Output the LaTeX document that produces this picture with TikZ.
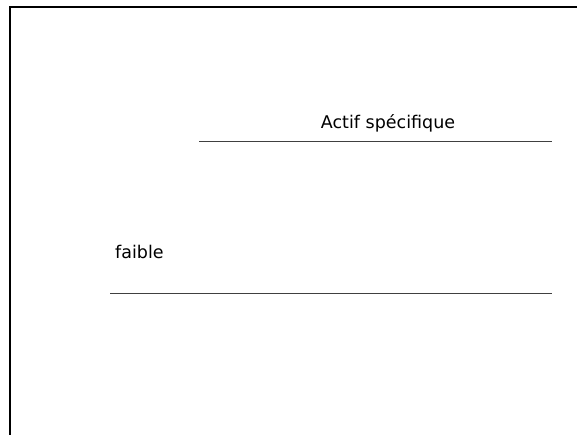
\documentclass[tikz,border=0pt]{standalone}
\usepackage{fontspec}
\setmainfont{DejaVu Sans}
\usetikzlibrary{positioning}

\begin{document}
\begin{tikzpicture}[
  x=1pt, y=-1pt,
  frame/.style={line width=2pt},
  rule/.style={line width=0.8pt, black!75},
  lbl/.style={inner sep=0pt, font=\fontsize{17.5}{20}\selectfont}
]
\useasboundingbox (0,0) rectangle (577,435);
% frame
\coordinate (fbl) at (10,436);
\coordinate (ftl) at (10,7);
\coordinate (ftr) at (578,7);
\draw[frame] (fbl) -- (ftl) -- (ftr);
% rules
\coordinate (r1a) at (199,141);
\coordinate (r1b) at (552,141);
\coordinate (r2a) at (110,293);
\coordinate (r2b) at (552,293);
\draw[rule] (r1a) -- (r1b);
\draw[rule] (r2a) -- (r2b);
% labels
\node[lbl] (actif) at (388,123) {Actif spécifique};
\node[lbl, anchor=west] (faible) at (115,252) {faible};
\end{tikzpicture}
\end{document}
